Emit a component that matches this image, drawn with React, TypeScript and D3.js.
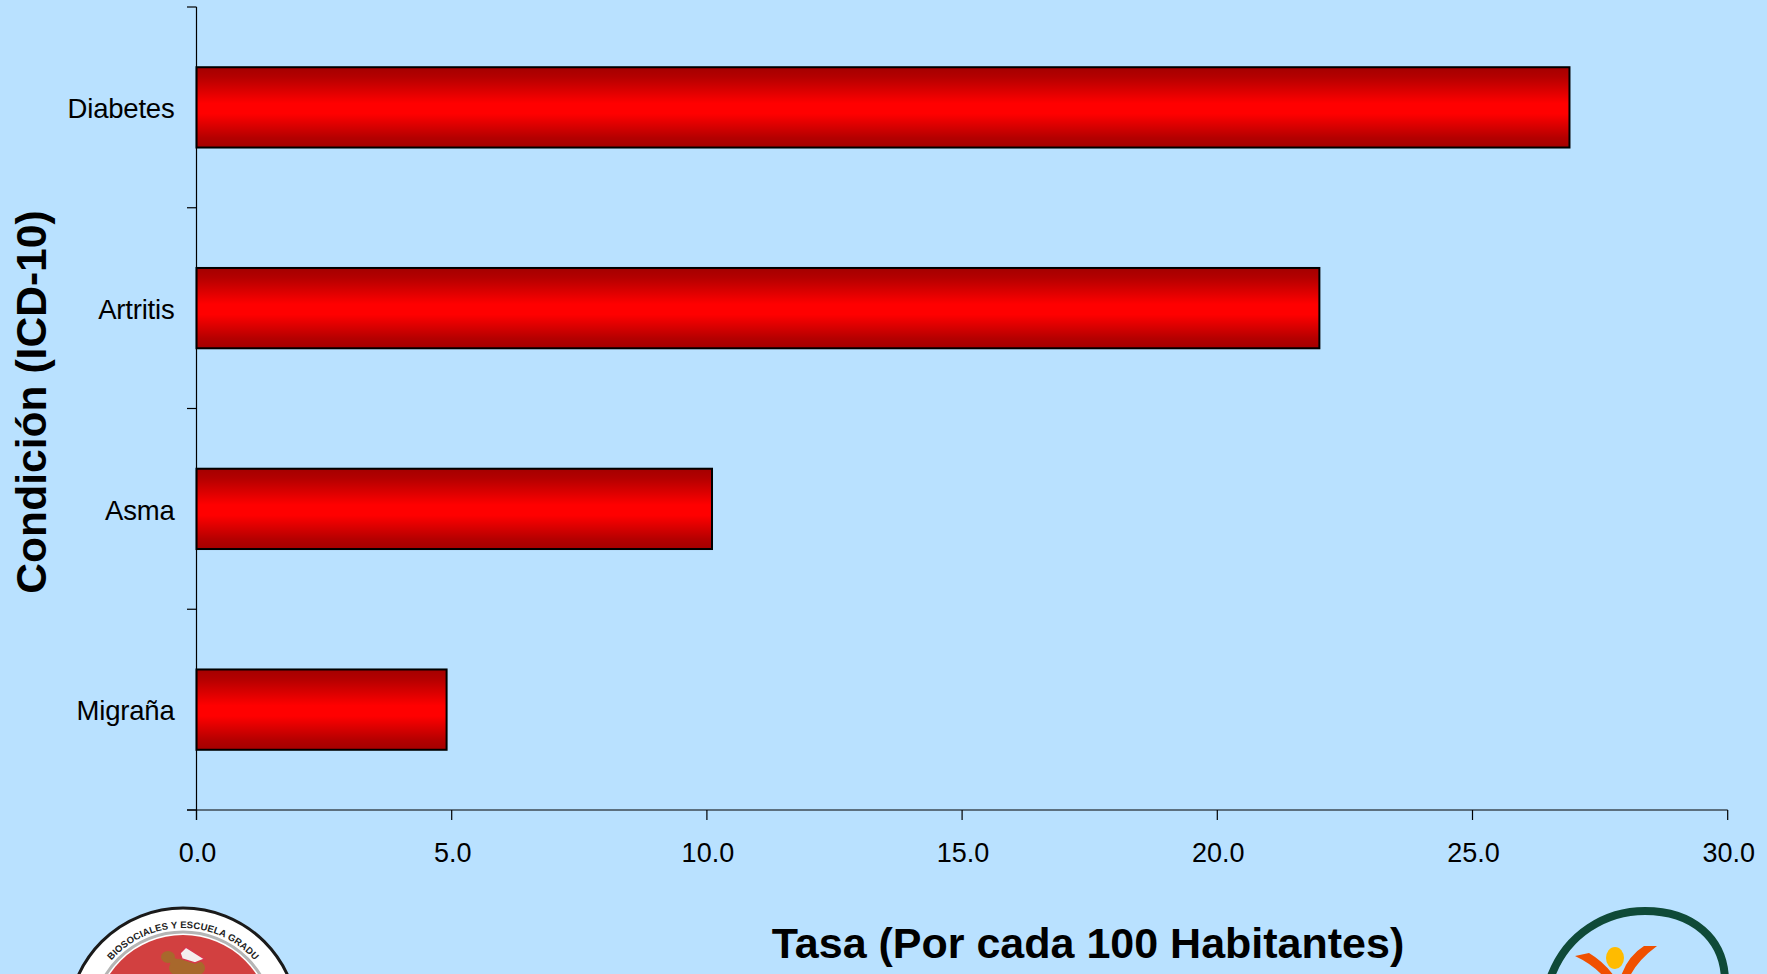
import React from "react";
import * as d3 from "d3";

const categories = ["Diabetes", "Artritis", "Asma", "Migraña"];
const rates = [26.9, 22.0, 10.1, 4.9];
const xTicks = [0, 5, 10, 15, 20, 25, 30];
const xTitle = "Tasa (Por cada 100 Habitantes)";
const yTitle = "Condición (ICD-10)";
const sealText = "BIOSOCIALES Y ESCUELA GRADU";

const W = 1767, H = 974;
const BG = "#B9E1FF";
const FONT = "'Liberation Sans', Arial, sans-serif";

export default function App() {
  const x = d3.scaleLinear().domain([0, 30]).range([196.5, 1727.7]);
  const y = d3.scaleBand<string>().domain(categories).range([7, 810]).paddingInner(0.6).paddingOuter(0.3);
  const step = y.step();
  const yEdges = [...categories.map((c) => (y(c) as number) - step * 0.3), 810];
  const p = d3.path();
  p.arc(0, 0, 95, (-Math.PI / 2) - 1.15, (-Math.PI / 2) + 1.15);
  const sealArc = p.toString();
  return (
    <svg width={W} height={H} viewBox={`0 0 ${W} ${H}`} style={{ position: "fixed", left: 0, top: 0, display: "block" }} fontFamily={FONT}>
      <defs>
        <linearGradient id="barFill" x1="0" y1="0" x2="0" y2="1">
          <stop offset="0" stopColor="#a40000" />
          <stop offset="0.12" stopColor="#b40000" />
          <stop offset="0.45" stopColor="#ff0000" />
          <stop offset="0.58" stopColor="#ff0000" />
          <stop offset="0.88" stopColor="#b40000" />
          <stop offset="1" stopColor="#a40000" />
        </linearGradient>
      </defs>
      <rect width={W} height={H} fill={BG} />

      {categories.map((c, i) => (
        <rect key={c} x={x(0)} y={y(c)} width={x(rates[i]) - x(0)} height={y.bandwidth()} fill="url(#barFill)" stroke="#000" strokeWidth={2} />
      ))}

      <line x1={x(0)} x2={x(0)} y1={7} y2={820} stroke="#000" strokeWidth={1.2} />
      <line x1={187} x2={x(30)} y1={810} y2={810} stroke="#000" strokeWidth={1.2} />
      {yEdges.map((e) => (
        <line key={e} x1={187} x2={x(0)} y1={e} y2={e} stroke="#000" strokeWidth={1.2} />
      ))}
      {xTicks.map((t) => (
        <g key={t}>
          <line x1={x(t)} x2={x(t)} y1={810} y2={820} stroke="#000" strokeWidth={1.2} />
          <text x={x(t) + 1} y={853} dy="0.35em" textAnchor="middle" fontSize={27} fill="#000">{t.toFixed(1)}</text>
        </g>
      ))}
      {categories.map((c) => (
        <text key={c} x={174.5} y={(y(c) as number) + y.bandwidth() / 2 + 1} dy="0.35em" textAnchor="end" fontSize={27.5} letterSpacing={-0.2} fill="#000">{c}</text>
      ))}

      <text x={1088} y={943} dy="0.35em" textAnchor="middle" fontSize={43} fontWeight="bold" fill="#000">{xTitle}</text>
      <text transform="translate(31.5,402) rotate(-90)" dy="0.35em" textAnchor="middle" fontSize={42.6} fontWeight="bold" fill="#000">{yTitle}</text>

      {/* left seal */}
      <g transform="translate(183,1023)">
        <circle r={115} fill="#fff" stroke="#1a1a1a" strokeWidth={3} />
        <circle r={91} fill="none" stroke="#b5b5b5" strokeWidth={3} />
        <circle r={88} fill="#d24040" />
        <path id="sealPath" d={sealArc} fill="none" />
        <text fontSize={9.5} fontWeight="bold" fill="#222" letterSpacing={0.1}>
          <textPath href="#sealPath" startOffset="50%" textAnchor="middle">{sealText}</textPath>
        </text>
        <ellipse cx={4} cy={-55} rx={18} ry={10} fill="#a8682c" />
        <ellipse cx={-15} cy={-66} rx={7} ry={6} fill="#a8682c" />
        <path d="M-14,-66 L4,-62 L4,-52 L-12,-56 Z" fill="#a8682c" />
        <path d="M-3,-70 L3,-76 L22,-64 L12,-60 L-1,-64 Z" fill="#f4eeee" stroke="#d8384a" strokeWidth={1.5} />
      </g>

      {/* right logo */}
      <path d="M1549,982 C1565,932 1608,911 1645,911 C1692,911 1725,938 1725,982" fill="none" stroke="#0f4a38" strokeWidth={8} />
      <ellipse cx={1615} cy={958} rx={9} ry={11} fill="#FFBB00" />
      <path d="M1575,956 L1589,953 Q1604,962 1614,976 L1603,976 Q1592,964 1575,956 Z" fill="#F05000" />
      <path d="M1657,946 L1644,946 Q1628,956 1621,976 L1630,976 Q1638,960 1657,946 Z" fill="#F05000" />
    </svg>
  );
}
